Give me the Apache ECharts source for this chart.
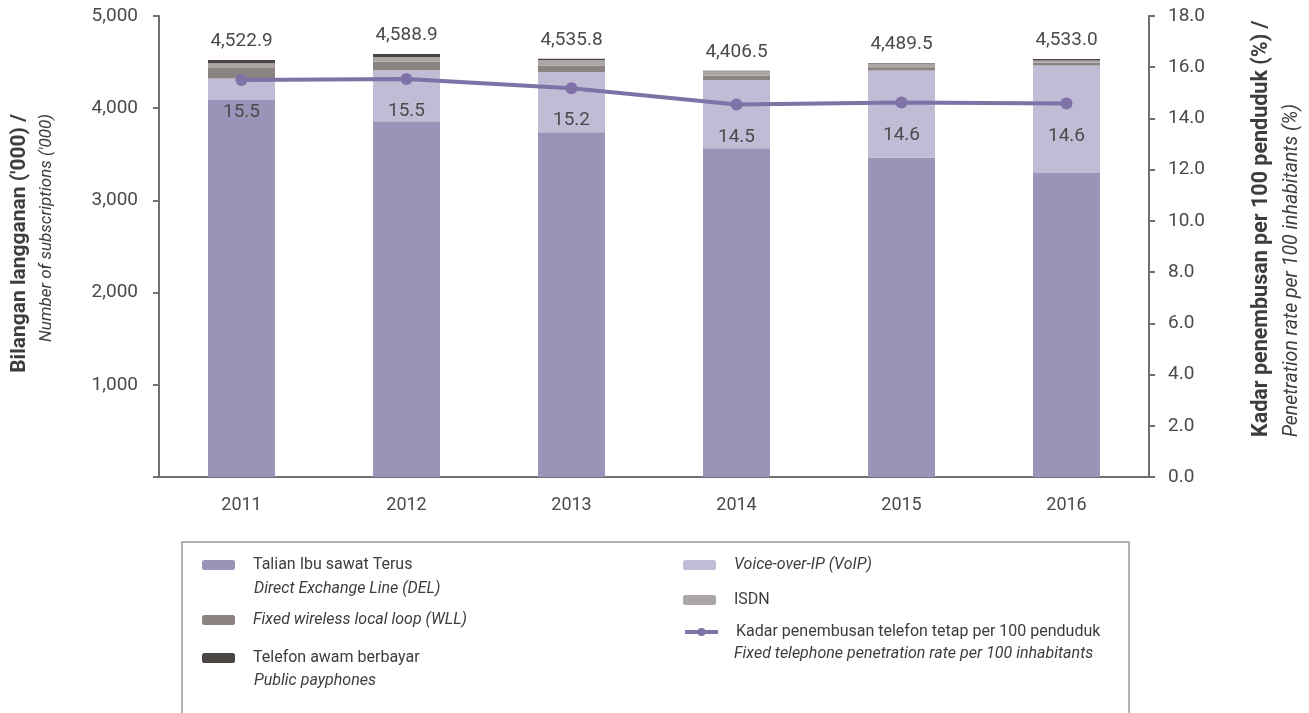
<!DOCTYPE html>
<html>
<head>
<meta charset="utf-8">
<script src="https://cdn.jsdelivr.net/npm/echarts@6/dist/echarts.min.js"></script>
<style>html,body{margin:0;padding:0;background:#fff;}#c{width:1309px;height:713px;}</style>
</head>
<body>
<div id="c"></div>
<script>
const years = ['2011', '2012', '2013', '2014', '2015', '2016'];
const del = [4090, 3858, 3740, 3565, 3462, 3296];
const voip = [232, 553, 652, 740, 947, 1167];
const wll = [115, 92, 68, 47, 36, 30];
const isdn = [50, 52, 62, 50, 40, 25];
const payphones = [36, 34, 14, 4.5, 4.5, 15];
const totals = [4522.9, 4588.9, 4535.8, 4406.5, 4489.5, 4533.0];
const rate = [15.5, 15.54, 15.18, 14.54, 14.62, 14.58];
const leftTicks = [0, 1000, 2000, 3000, 4000, 5000];
const rightTicks = [0, 2, 4, 6, 8, 10, 12, 14, 16, 18];

const txt = '#4a4a4a';
const axisCol = '#707070';
const font = 'Roboto, "Liberation Sans", sans-serif';

const chart = echarts.init(document.getElementById('c'));

function fmtThousands(v, d) {
  return v.toLocaleString('en-US', {minimumFractionDigits: d, maximumFractionDigits: d});
}

function mkLegend(name, label, left, top, italic, extra) {
  return Object.assign({
    data: [name],
    left: left, top: top,
    orient: 'vertical',
    padding: 0,
    itemWidth: 33, itemHeight: 10,
    selectedMode: false,
    formatter: function () { return label; },
    textStyle: {
      fontFamily: font, fontSize: 16, color: '#3d3d3d',
      fontStyle: italic ? 'italic' : 'normal',
      lineHeight: 18,
      padding: [0, 0, 0, 13]
    }
  }, extra || {});
}

const barBase = {type: 'bar', stack: 'total', barWidth: 67, yAxisIndex: 0};

chart.setOption({
  animation: false,
  textStyle: {fontFamily: font},
  grid: {left: 159, right: 160, top: 16, bottom: 236, containLabel: false},
  xAxis: {
    type: 'category',
    data: years,
    axisTick: {show: false},
    axisLine: {lineStyle: {color: axisCol, width: 2}},
    axisLabel: {color: txt, fontSize: 18, margin: 19, fontFamily: font}
  },
  yAxis: [
    {
      type: 'value', min: 0, max: 5000, interval: 1000, position: 'left',
      splitLine: {show: false},
      axisLine: {show: true, lineStyle: {color: axisCol, width: 2}},
      axisTick: {show: true, length: 6, lineStyle: {color: axisCol, width: 2}},
      axisLabel: {
        color: txt, fontSize: 19, margin: 21, fontFamily: font,
        formatter: function (v) { return v === leftTicks[0] ? '' : fmtThousands(v, 0); }
      }
    },
    {
      type: 'value', min: 0, max: 18, interval: 2, position: 'right',
      splitLine: {show: false},
      axisLine: {show: true, lineStyle: {color: axisCol, width: 2}},
      axisTick: {show: true, length: 6, lineStyle: {color: axisCol, width: 2}},
      axisLabel: {
        color: txt, fontSize: 19, margin: 19, fontFamily: font,
        formatter: function (v) { return v.toFixed(1); }
      }
    }
  ],
  legend: [
    mkLegend('DEL', 'Talian Ibu sawat Terus', 202, 556, false),
    mkLegend('WLL', 'Fixed wireless local loop (WLL)', 202, 611, true),
    mkLegend('Payphones', 'Telefon awam berbayar', 202, 649, false),
    mkLegend('VoIP', 'Voice-over-IP (VoIP)', 683, 556, true),
    mkLegend('ISDN', 'ISDN', 683, 591, false),
    mkLegend('Rate', 'Kadar penembusan telefon tetap per 100 penduduk', 683, 623, false,
      {lineStyle: {width: 4}, itemStyle: {}})
  ],
  graphic: [
    {type: 'rect', shape: {x: 182, y: 542, width: 947, height: 220},
     style: {fill: 'none', stroke: '#9a9a9a', lineWidth: 1.5}, silent: true},
    {type: 'text', x: 254, y: 589, style: {text: 'Direct Exchange Line (DEL)', fontFamily: font, fontSize: 16, fontStyle: 'italic', fill: '#3d3d3d', textVerticalAlign: 'middle'}},
    {type: 'text', x: 254, y: 681, style: {text: 'Public payphones', fontFamily: font, fontSize: 16, fontStyle: 'italic', fill: '#3d3d3d', textVerticalAlign: 'middle'}},
    {type: 'text', x: 734, y: 654, style: {text: 'Fixed telephone penetration rate per 100 inhabitants', fontFamily: font, fontSize: 16, fontStyle: 'italic', fill: '#3d3d3d', textVerticalAlign: 'middle'}},
    {type: 'text', x: 20, y: 114, rotation: Math.PI / 2,
     style: {text: "Bilangan langganan ('000) /", fontFamily: font, fontSize: 21, fontWeight: 'bold', fill: '#3d3d3d', textAlign: 'right', textVerticalAlign: 'middle'}},
    {type: 'text', x: 47, y: 114, rotation: Math.PI / 2,
     style: {text: "Number of subscriptions ('000)", fontFamily: font, fontSize: 17, fontStyle: 'italic', fill: '#3d3d3d', textAlign: 'right', textVerticalAlign: 'middle'}},
    {type: 'text', x: 1262, y: 437, rotation: Math.PI / 2,
     style: {text: 'Kadar penembusan per 100 penduduk (%) /', fontFamily: font, fontSize: 21.5, fontWeight: 'bold', fill: '#3d3d3d', textAlign: 'left', textVerticalAlign: 'middle'}},
    {type: 'text', x: 1292, y: 437, rotation: Math.PI / 2,
     style: {text: 'Penetration rate per 100 inhabitants (%)', fontFamily: font, fontSize: 19.5, fontStyle: 'italic', fill: '#3d3d3d', textAlign: 'left', textVerticalAlign: 'middle'}}
  ],
  series: [
    Object.assign({}, barBase, {name: 'DEL', data: del, itemStyle: {color: '#9b93b8'}}),
    Object.assign({}, barBase, {name: 'VoIP', data: voip, itemStyle: {color: '#c1bcd6'}}),
    Object.assign({}, barBase, {name: 'WLL', data: wll, itemStyle: {color: '#8a8381'}}),
    Object.assign({}, barBase, {name: 'ISDN', data: isdn, itemStyle: {color: '#aba6a3'}}),
    Object.assign({}, barBase, {name: 'Payphones', data: payphones, itemStyle: {color: '#4a4443'},
      label: {show: true, position: 'top', distance: 9, color: txt, fontSize: 19, fontFamily: font,
        formatter: function (p) { return fmtThousands(totals[p.dataIndex], 1); }}}),
    {
      name: 'Rate', type: 'line', yAxisIndex: 1, data: rate, z: 5,
      symbol: 'circle', symbolSize: 12,
      lineStyle: {color: '#7e72a6', width: 4},
      itemStyle: {color: '#7e72a6'},
      label: {show: true, position: 'bottom', distance: 17, color: txt, fontSize: 19, fontFamily: font,
        formatter: function (p) { return p.value.toFixed(1); }}
    }
  ]
});
</script>
</body>
</html>
